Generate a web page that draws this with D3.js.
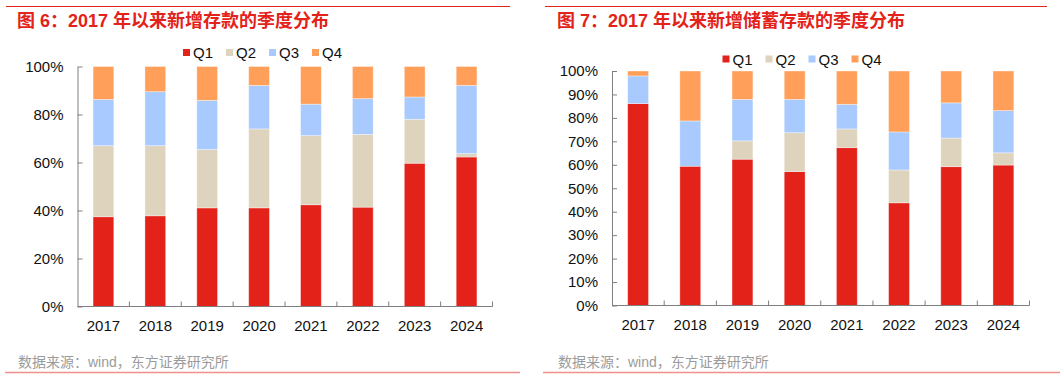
<!DOCTYPE html>
<html><head><meta charset="utf-8">
<script src="https://cdn.jsdelivr.net/npm/d3@7/dist/d3.min.js"></script>
<style>body{margin:0;background:#fff}svg{display:block}</style>
</head><body>
<svg id="c" width="1061" height="379"></svg>
<script>
const years = ["2017","2018","2019","2020","2021","2022","2023","2024"];
const quarters = ["Q1","Q2","Q3","Q4"];
// Chart 6: new deposits, share by quarter (%)
const dep_Q1 = [37.4, 37.8, 41.1, 41.1, 42.4, 41.4, 59.7, 62.3];
const dep_Q2 = [29.6, 29.2, 24.3, 32.9, 28.8, 30.3, 18.3, 1.4];
const dep_Q3 = [19.3, 22.5, 20.5, 18.1, 13.1, 14.9, 9.3, 28.4];
const dep_Q4 = [13.7, 10.5, 14.1, 7.9, 15.7, 13.4, 12.7, 7.9];
// Chart 7: new household savings deposits, share by quarter (%)
const sav_Q1 = [86.1, 59.4, 62.4, 57.1, 67.3, 43.8, 59.2, 59.9];
const sav_Q2 = [0.0, 0.0, 7.8, 16.6, 8.0, 14.0, 12.2, 5.2];
const sav_Q3 = [11.8, 19.3, 17.7, 14.2, 10.5, 16.2, 15.0, 18.0];
const sav_Q4 = [2.1, 21.3, 12.1, 12.1, 14.2, 26.0, 13.6, 16.9];
const ticksLeft = [0, 20, 40, 60, 80, 100];
const ticksRight = [0, 10, 20, 30, 40, 50, 60, 70, 80, 90, 100];
const titles = ["图 6：2017 年以来新增存款的季度分布", "图 7：2017 年以来新增储蓄存款的季度分布"];
const source = "数据来源：wind，东方证券研究所";

const colors = {Q1:"#E3221A", Q2:"#DED4BD", Q3:"#A8CAFE", Q4:"#FF9F5A"};
const svg = d3.select("#c");
const latin = "'Liberation Sans', Arial, sans-serif";
const mixed = "'Liberation Sans', 'Noto Sans CJK SC', sans-serif";

function rows(a,b,c,d){ return years.map((y,i)=>({year:y, Q1:a[i], Q2:b[i], Q3:c[i], Q4:d[i]})); }

function panel(cfg){
  const g = svg.append("g");
  g.append("line").attr("x1",cfg.lineX[0]).attr("x2",cfg.lineX[1]).attr("y1",6.5).attr("y2",6.5)
    .attr("stroke","#E3221A").attr("stroke-width",1.2);
  g.append("text").attr("x",cfg.titleX).attr("y",26.5).text(cfg.title)
    .attr("font-family",mixed).attr("font-weight","bold").attr("font-size",18).attr("fill","#E3221A");
  g.append("text").attr("x",cfg.titleX+1).attr("y",366.5).text(source)
    .attr("font-family",mixed).attr("font-size",14).attr("fill","#9b9b9b");
  g.append("line").attr("x1",cfg.footX[0]).attr("x2",cfg.footX[1]).attr("y1",372.5).attr("y2",372.5)
    .attr("stroke","#F0908C").attr("stroke-width",1.6);

  const x = d3.scaleBand().domain(years).range(cfg.xr).paddingInner(0.6).paddingOuter(0.3);
  const y = d3.scaleLinear().domain([0,100]).range(cfg.yr);
  const stack = d3.stack().keys(quarters)(cfg.data);
  g.append("g").selectAll("g").data(stack).join("g").attr("fill",d=>colors[d.key])
    .selectAll("rect").data(d=>d).join("rect")
    .attr("x",d=>x(d.data.year)).attr("width",x.bandwidth())
    .attr("y",d=>y(d[1])).attr("height",d=>Math.max(0,y(d[0])-y(d[1])))
    .attr("stroke","#fff").attr("stroke-opacity",0.45).attr("stroke-width",0.8);

  const ya = g.append("g").attr("transform",`translate(${cfg.xr[0]},0)`)
    .call(d3.axisLeft(y).tickValues(cfg.ticks).tickFormat(d=>d+"%").tickSizeInner(-5).tickSizeOuter(0).tickPadding(14));
  ya.select(".domain").attr("stroke","#7f7f7f");
  ya.selectAll(".tick line").attr("stroke","#7f7f7f");
  ya.selectAll("text").attr("font-family",latin).attr("font-size",15).attr("fill","#111");
  const xb = d3.scaleLinear().domain([0,years.length]).range(cfg.xr);
  const xa = g.append("g").attr("transform",`translate(0,${cfg.yr[0]})`);
  xa.append("line").attr("x1",cfg.xr[0]).attr("x2",cfg.xr[1]).attr("stroke","#7f7f7f");
  xa.selectAll("line.t").data(d3.range(1,years.length+1)).join("line").attr("class","t")
    .attr("x1",d=>xb(d)).attr("x2",d=>xb(d)).attr("y1",0).attr("y2",-5).attr("stroke","#7f7f7f");
  xa.selectAll("text").data(years).join("text")
    .attr("x",d=>x(d)+x.bandwidth()/2).attr("y",24).attr("text-anchor","middle")
    .attr("font-family",latin).attr("font-size",15).attr("fill","#111").text(d=>d);

  const lg = g.append("g").attr("transform",`translate(${cfg.legX},${cfg.legY})`);
  quarters.forEach((q,i)=>{
    const it = lg.append("g").attr("transform",`translate(${i*43},0)`);
    it.append("rect").attr("x",0).attr("y",-3.5).attr("width",7).attr("height",7).attr("fill",colors[q]);
    it.append("text").attr("x",10).attr("y",5.5).text(q)
      .attr("font-family",latin).attr("font-size",15).attr("fill","#111");
  });
}

panel({title:titles[0], titleX:17, lineX:[6,510], footX:[5,520],
  xr:[77.5,492.5], yr:[306.5,66.5], ticks:ticksLeft, data:rows(dep_Q1,dep_Q2,dep_Q3,dep_Q4),
  legX:183, legY:52.5});
panel({title:titles[1], titleX:557, lineX:[545,1047], footX:[543,1060],
  xr:[612,1029.5], yr:[305.5,71], ticks:ticksRight, data:rows(sav_Q1,sav_Q2,sav_Q3,sav_Q4),
  legX:722.5, legY:59});
</script>
</body></html>
